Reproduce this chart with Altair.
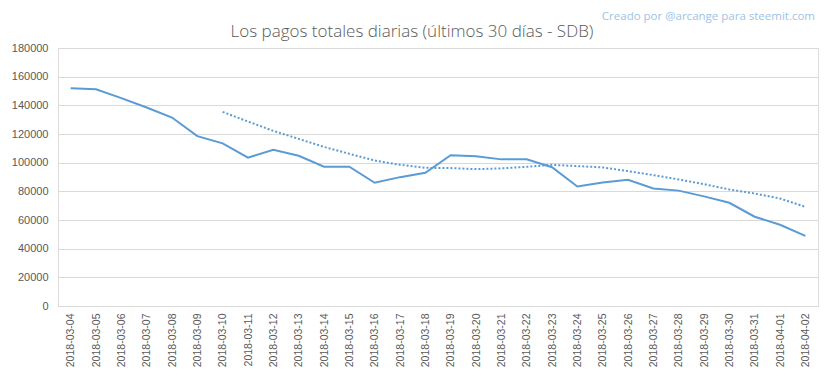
import altair as alt
import pandas as pd

dates = ["2018-03-04", "2018-03-05", "2018-03-06", "2018-03-07", "2018-03-08", "2018-03-09",
         "2018-03-10", "2018-03-11", "2018-03-12", "2018-03-13", "2018-03-14", "2018-03-15",
         "2018-03-16", "2018-03-17", "2018-03-18", "2018-03-19", "2018-03-20", "2018-03-21",
         "2018-03-22", "2018-03-23", "2018-03-24", "2018-03-25", "2018-03-26", "2018-03-27",
         "2018-03-28", "2018-03-29", "2018-03-30", "2018-03-31", "2018-04-01", "2018-04-02"]
pagos = [152000, 151200, 145000, 138500, 131500, 118500, 113500, 103500, 109000, 104800,
         97200, 97200, 86000, 89900, 93000, 105200, 104500, 102300, 102300, 96800,
         83400, 86200, 88000, 82000, 80500, 76500, 72000, 62300, 56700, 48900]
tendencia = [None, None, None, None, None, None,
             135400, 128700, 122200, 116600, 111000, 106200, 101500, 98500, 96400, 96200,
             95500, 96000, 97100, 98500, 97600, 96700, 94100, 91300, 88300, 85000,
             81300, 78500, 75000, 69200]
y_ticks = [0, 20000, 40000, 60000, 80000, 100000, 120000, 140000, 160000, 180000]

title_text = "Los pagos totales diarias (últimos 30 días - SDB)"
credit_text = "Creado por @arcange para steemit.com"

df = pd.DataFrame({"fecha": dates, "pagos": pagos, "tendencia": tendencia})

COLOR = "#5B9BD5"
GRID = "#D9D9D9"
TXT = "#595959"
FONT = "Liberation Sans"

x_axis = alt.Axis(title=None, labelAngle=-90, ticks=False, domain=True,
                  domainColor=GRID, labelPadding=7, labelFontSize=10.5,
                  labelColor=TXT, labelFont=FONT, labelOverlap=False, grid=False)
x_scale = alt.Scale(padding=0.5)
y_scale = alt.Scale(domain=[0, 180000], nice=False)
y_axis = alt.Axis(title=None, values=y_ticks, format="d", ticks=False, domain=False,
                  grid=True, gridColor=GRID, labelPadding=10, labelFontSize=11,
                  labelColor=TXT, labelFont=FONT, labelOverlap=False)

base = alt.Chart(df)

line = base.mark_line(color=COLOR, strokeWidth=2).encode(
    x=alt.X("fecha:O", sort=dates, scale=x_scale, axis=x_axis),
    y=alt.Y("pagos:Q", scale=y_scale, axis=y_axis),
)

trend = base.transform_filter("isValid(datum.tendencia)").mark_line(
    color=COLOR, strokeWidth=2, strokeDash=[2, 2]
).encode(
    x=alt.X("fecha:O", sort=dates, scale=x_scale, axis=x_axis),
    y=alt.Y("tendencia:Q", scale=y_scale, axis=y_axis),
)

title = alt.Chart(pd.DataFrame({"t": [title_text]})).mark_text(
    font="Open Sans", fontSize=17, fontWeight=300, color=TXT, align="center", baseline="middle"
).encode(text="t:N", x=alt.value(354), y=alt.value(-16))

credit = alt.Chart(pd.DataFrame({"t": [credit_text]})).mark_text(
    font="Open Sans", fontSize=11.5, color="#9DC3E6", align="right", baseline="middle"
).encode(text="t:N", x=alt.value(757), y=alt.value(-31))

chart = alt.layer(line, trend, title, credit).properties(
    width=760, height=258,
    autosize=alt.AutoSizeParams(type="none"),
    padding={"left": 50, "top": 40, "right": 7, "bottom": 65},
).configure_view(stroke=None).configure(background="white")

chart.save("out.html", embed_options={"renderer": "svg", "actions": False})
